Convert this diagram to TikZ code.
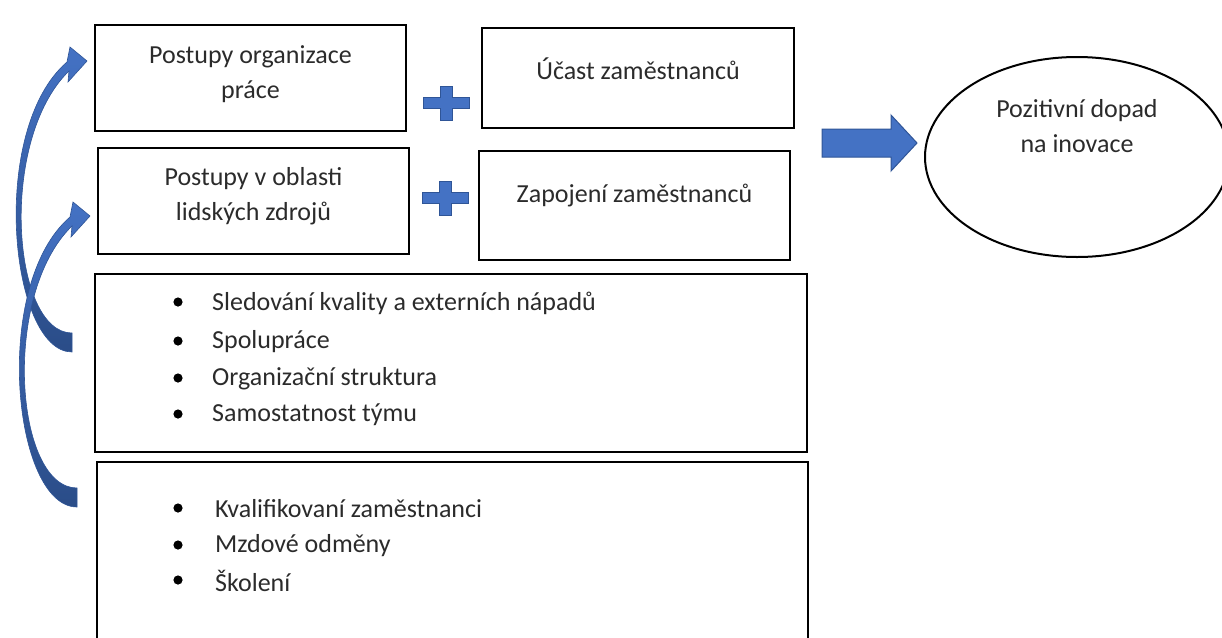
\documentclass[tikz,border=0pt]{standalone}
\usepackage{fontspec}
\setmainfont{Carlito}
\usetikzlibrary{shapes.geometric}
\definecolor{officeblue}{HTML}{4472C4}
\definecolor{officedark}{HTML}{2F5597}
\definecolor{inktext}{HTML}{2B2B2B}
\tikzset{
  txtbox/.style={draw=black, line width=2pt, rectangle, inner sep=0pt},
  lbl/.style={text=inktext, font=\fontsize{26}{35}\selectfont, align=center, inner sep=0pt},
  item/.style={text=inktext, font=\fontsize{26}{35}\selectfont, anchor=west, inner sep=0pt},
  blockshape/.style={fill=officeblue, draw=officedark, line width=1pt, line join=miter},
  curvshape/.style={top color=officeblue, bottom color=officedark!90!black, draw=officedark, line width=0.6pt}
}
\begin{document}
\begin{tikzpicture}[x=1pt,y=-1pt]
\clip (0,0) rectangle (1222,637);
\useasboundingbox (0,0) rectangle (1222,637);
% boxes
\node[txtbox, minimum width=311pt, minimum height=106pt] (orgbox) at (250.5,78) {};
\node[txtbox, minimum width=312pt, minimum height=100pt] (ucastbox) at (638,78) {};
\node[txtbox, minimum width=311pt, minimum height=106pt] (hrbox) at (253.5,201) {};
\node[txtbox, minimum width=311pt, minimum height=109pt] (zapbox) at (634.5,205.5) {};
\node[txtbox, minimum width=712pt, minimum height=178pt] (listbox) at (451,363) {};
\node[txtbox, minimum width=711pt, minimum height=200pt] (skillbox) at (452.5,562) {};
\node[draw=black, line width=2pt, ellipse, minimum width=304pt, minimum height=200pt] (dopad) at (1077,157) {};
% labels
\node[lbl] (orgtxt) at (250.5,74) {Postupy organizace\\práce};
\node[lbl] (ucasttxt) at (638,68.5) {Účast zaměstnanců};
\node[lbl] (hrtxt) at (253.5,196.5) {Postupy v oblasti\\lidských zdrojů};
\node[lbl] (zaptxt) at (634.5,196) {Zapojení zaměstnanců};
\node[lbl] (dopadtxt) at (1077,126.5) {Pozitivní dopad\\na inovace};
% bullet lists
\node[item] (sled) at (212,303) {Sledování kvality a externích nápadů};
\node[item] (spol) at (212,342) {Spolupráce};
\node[item] (struk) at (212,379) {Organizační struktura};
\node[item] (samo) at (212,415) {Samostatnost týmu};
\node[item] (kval) at (215,509) {Kvalifikovaní zaměstnanci};
\node[item] (mzdy) at (215,546) {Mzdové odměny};
\node[item] (skol) at (215,581) {Školení};
\fill (178,302) circle (4.6pt);
\fill (178,341) circle (4.6pt);
\fill (178,378) circle (4.6pt);
\fill (178,414) circle (4.6pt);
\fill (178,508) circle (4.6pt);
\fill (178,545) circle (4.6pt);
\fill (178,580) circle (4.6pt);
% plus signs
\filldraw[blockshape] (423,97.5) -- (440,97.5) -- (440,86) -- (452,86) -- (452,97.5) -- (469,97.5) -- (469,108.5) -- (452,108.5) -- (452,120) -- (440,120) -- (440,108.5) -- (423,108.5) -- cycle;
\filldraw[blockshape] (422,192.5) -- (439,192.5) -- (439,181) -- (451,181) -- (451,192.5) -- (468,192.5) -- (468,203.5) -- (451,203.5) -- (451,215) -- (439,215) -- (439,203.5) -- (422,203.5) -- cycle;
% arrow to the ellipse
\filldraw[blockshape] (822,129) -- (891,129) -- (891,115) -- (917,143) -- (891,171) -- (891,157) -- (822,157) -- cycle;
% curved arrows
\shade[curvshape] (72,352) .. controls (10,352) and (-12,130) .. (67,62) -- (70,47) -- (87,61) -- (68,82) -- (69,71) .. controls (-2,140) and (12,333) .. (72,333) -- cycle;
\shade[curvshape] (77,507) .. controls (13,507) and (-9,285) .. (70,217) -- (73,202) -- (90,216) -- (71,237) -- (72,226) .. controls (1,295) and (15,488) .. (77,488) -- cycle;
\end{tikzpicture}
\end{document}
